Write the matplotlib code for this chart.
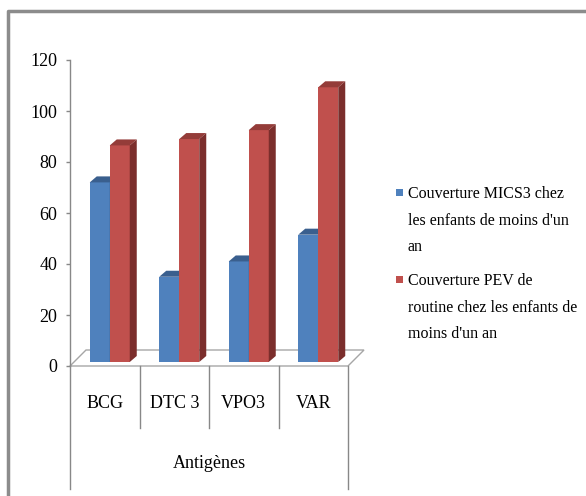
import matplotlib
matplotlib.use("Agg")
import matplotlib.pyplot as plt
import matplotlib.transforms as mtransforms
from matplotlib.patches import Polygon, Rectangle
from matplotlib.lines import Line2D

# données
categories = ["BCG", "DTC 3", "VPO3", "VAR"]
mics3 = [72, 35, 41, 51.5]
pev = [86.5, 89, 92.5, 109.3]
labels = ["Couverture MICS3 chez\nles enfants de moins d'un\nan",
          "Couverture PEV de\nroutine chez les enfants de\nmoins d'un an"]
yticks = [0, 20, 40, 60, 80, 100, 120]

font = "Liberation Serif"
blue, blue_top = "#4F81BD", "#3A5F8E"
red, red_top, red_side = "#C0504D", "#943C39", "#7B2E2C"
grey = "#888888"

fig = plt.figure(figsize=(5.86, 4.96), dpi=100)
W, H = 586, 496
ax = fig.add_axes([70 / W, 130 / H, 278 / W, 306 / H])
ax.set_xlim(-0.5, 3.5)
ax.set_ylim(0, 120)

# pixels -> unités de données
ux = 278 / 4
uy = 306 / 120

# sol en perspective
fdx, fdy = 16 / ux, 16 / uy
floor = Polygon([(-0.5, 0), (-0.5 + fdx, fdy), (3.5 + fdx, fdy), (3.5, 0)],
                closed=True, facecolor="white", edgecolor="#A6A6A6", lw=1,
                clip_on=False, zorder=1)
ax.add_patch(floor)

# barres 3D
base = 4 / uy
bw = 20 / ux
bdx, bdy = 7 / ux, 6 / uy
offsets = [-15 / ux, 5 / ux]
series = [(mics3, blue, blue_top, blue_top), (pev, red, red_top, red_side)]
for k, (vals, c, ctop, cside) in enumerate(series):
    for i, v in enumerate(vals):
        x0 = i + offsets[k]
        x1 = x0 + bw
        z = 3 + k
        ax.bar(x0, v - base, width=bw, bottom=base, align="edge", color=c,
               edgecolor="none", zorder=z, clip_on=False)
        ax.add_patch(Polygon([(x0, v), (x0 + bdx, v + bdy), (x1 + bdx, v + bdy), (x1, v)],
                             closed=True, facecolor=ctop, edgecolor="none",
                             zorder=z, clip_on=False))
        ax.add_patch(Polygon([(x1, base), (x1 + bdx, base + bdy), (x1 + bdx, v + bdy), (x1, v)],
                             closed=True, facecolor=cside, edgecolor="none",
                             zorder=z, clip_on=False))

# axes
for s in ["top", "right", "bottom"]:
    ax.spines[s].set_visible(False)
ax.spines["left"].set_color(grey)
ax.spines["left"].set_linewidth(1)
ax.set_yticks(yticks)
ax.set_yticklabels([str(t) for t in yticks], fontfamily=font, fontsize=13)
ax.tick_params(axis="y", length=3, width=1, color=grey, pad=6)
ax.set_xticks([])

# séparateurs de catégories et libellés
tr = mtransforms.blended_transform_factory(ax.transData, ax.transAxes)
for j in range(len(categories) + 1):
    xe = j - 0.5
    bottom = -123 / 306 if j in (0, len(categories)) else -62 / 306
    ax.add_line(Line2D([xe, xe], [0, bottom], transform=tr, color=grey,
                       lw=1, clip_on=False))
for i, cat in enumerate(categories):
    ax.text(i, -37 / 306, cat, transform=tr, ha="center", va="center",
            fontfamily=font, fontsize=13)
ax.text(1.5, -97 / 306, "Antigènes", transform=tr, ha="center", va="center",
        fontfamily=font, fontsize=13)

# légende
legend_top = [186, 273]
for lab, c, yt in zip(labels, [blue, red], legend_top):
    fig.patches.append(Rectangle((396 / W, 1 - (yt + 10) / H), 7 / W, 7 / H,
                                 transform=fig.transFigure, facecolor=c,
                                 edgecolor="none"))
    fig.text(408 / W, 1 - yt / H, lab, ha="left", va="top",
             fontfamily=font, fontsize=11.5, linespacing=1.88)

# cadre
fig.add_artist(Line2D([8 / W, 8 / W, 1], [0, 1 - 11 / H, 1 - 11 / H],
                      transform=fig.transFigure, color="#8C8C8C", lw=2.5))

fig.savefig("out.png", dpi=100)
